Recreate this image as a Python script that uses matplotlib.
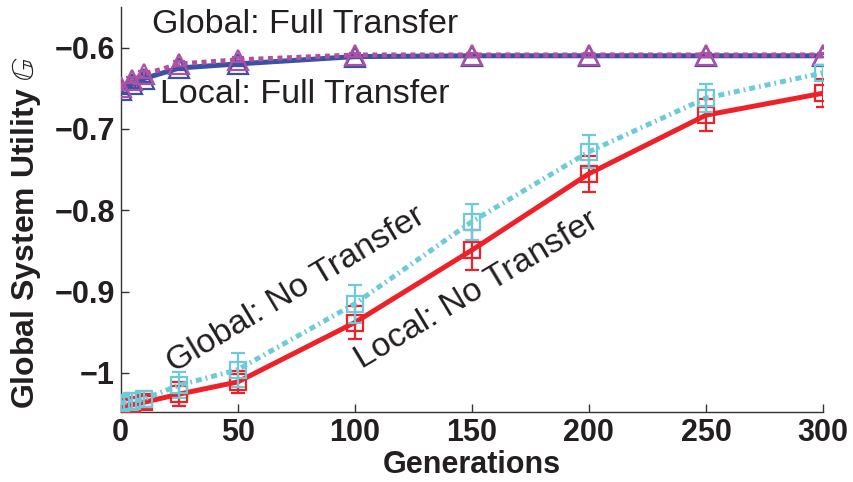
import matplotlib.pyplot as plt

plt.rcParams['font.family'] = ['Liberation Sans', 'DejaVu Sans']
plt.rcParams['mathtext.fontset'] = 'stix'

gens = [0, 5, 10, 25, 50, 100, 150, 200, 250, 300]

local_full = [-0.652, -0.645, -0.638, -0.625, -0.620, -0.611, -0.610, -0.610, -0.610, -0.610]
global_full = [-0.648, -0.640, -0.633, -0.620, -0.615, -0.609, -0.609, -0.609, -0.609, -0.609]
local_full_err = [0.004, 0.004, 0.004, 0.003, 0.003, 0.002, 0.002, 0.002, 0.002, 0.002]
global_full_err = [0.004, 0.004, 0.004, 0.003, 0.003, 0.002, 0.002, 0.002, 0.002, 0.002]

local_none = [-1.041, -1.039, -1.036, -1.026, -1.011, -0.938, -0.849, -0.755, -0.683, -0.656]
global_none = [-1.037, -1.035, -1.032, -1.015, -0.996, -0.915, -0.814, -0.728, -0.662, -0.631]
local_none_err = [0.008, 0.008, 0.008, 0.015, 0.014, 0.020, 0.025, 0.022, 0.020, 0.017]
global_none_err = [0.008, 0.010, 0.010, 0.016, 0.021, 0.023, 0.022, 0.020, 0.017, 0.010]

c_blue = '#3a52a4'
c_mag = '#b04fa6'
c_red = '#ee2128'
c_cyan = '#6ccadb'

fig = plt.figure(figsize=(8.54, 4.82), dpi=100)
ax = fig.add_axes([0.1413, 0.1452, 0.8224, 0.8403])

ax.errorbar(gens, local_full, yerr=local_full_err, color=c_blue, lw=3.6,
            marker='^', ms=15, mfc='none', mec=c_blue, mew=1.6,
            elinewidth=1.2, capsize=4, zorder=3)
ax.errorbar(gens, local_none, yerr=local_none_err, color=c_red, lw=3.6,
            marker='s', ms=12, mfc='none', mec=c_red, mew=1.6,
            elinewidth=1.6, capsize=5, capthick=1.6, zorder=3)
ax.errorbar(gens, global_full, yerr=global_full_err, color=c_mag, lw=3.6,
            ls=(0, (1, 0.9)), marker='^', ms=15, mfc='none', mec=c_mag, mew=1.6,
            elinewidth=1.2, capsize=4, zorder=4)
ax.errorbar(gens, global_none, yerr=global_none_err, color=c_cyan, lw=3.6,
            ls=(0, (1.2, 0.8, 0.35, 0.8)), marker='s', ms=12, mfc='none',
            mec=c_cyan, mew=1.6, elinewidth=1.6, capsize=5, capthick=1.6,
            zorder=4)

ax.text(13.4, -0.572, 'Global: Full Transfer', fontsize=24.5, va='center', ha='left', color='#231f20')
ax.text(16.8, -0.658, 'Local: Full Transfer', fontsize=24.5, va='center', ha='left', color='#231f20')
ax.text(75, -0.898, 'Global: No Transfer', fontsize=24.5, va='center', ha='center',
        rotation=31, rotation_mode='anchor', color='#231f20')
ax.text(152, -0.898, 'Local: No Transfer', fontsize=24.5, va='center', ha='center',
        rotation=31, rotation_mode='anchor', color='#231f20')

ax.set_xlim(0, 300)
ax.set_ylim(-1.048, -0.55)
ax.set_xticks([0, 50, 100, 150, 200, 250, 300])
ax.set_yticks([-1, -0.9, -0.8, -0.7, -0.6])
ax.set_yticklabels(['\u22121', '\u22120.9', '\u22120.8', '\u22120.7', '\u22120.6'])

for s in ['top', 'right']:
    ax.spines[s].set_visible(False)
for s in ['left', 'bottom']:
    ax.spines[s].set_color('#333333')
    ax.spines[s].set_linewidth(1.0)

ax.tick_params(direction='in', length=6, width=1.0, color='#333333',
               labelsize=22, pad=4)
for lbl in ax.get_xticklabels() + ax.get_yticklabels():
    lbl.set_fontweight('bold')
    lbl.set_color('#231f20')

ax.set_xlabel('Generations', fontsize=22, fontweight='bold', color='#231f20')
ax.xaxis.set_label_coords(0.5, -0.094)
ax.set_ylabel('Global System Utility $\\mathbb{G}$', fontsize=23, fontweight='bold',
              color='#231f20')
ax.yaxis.set_label_coords(-0.11, 0.444)

plt.savefig('out.png', dpi=100)
